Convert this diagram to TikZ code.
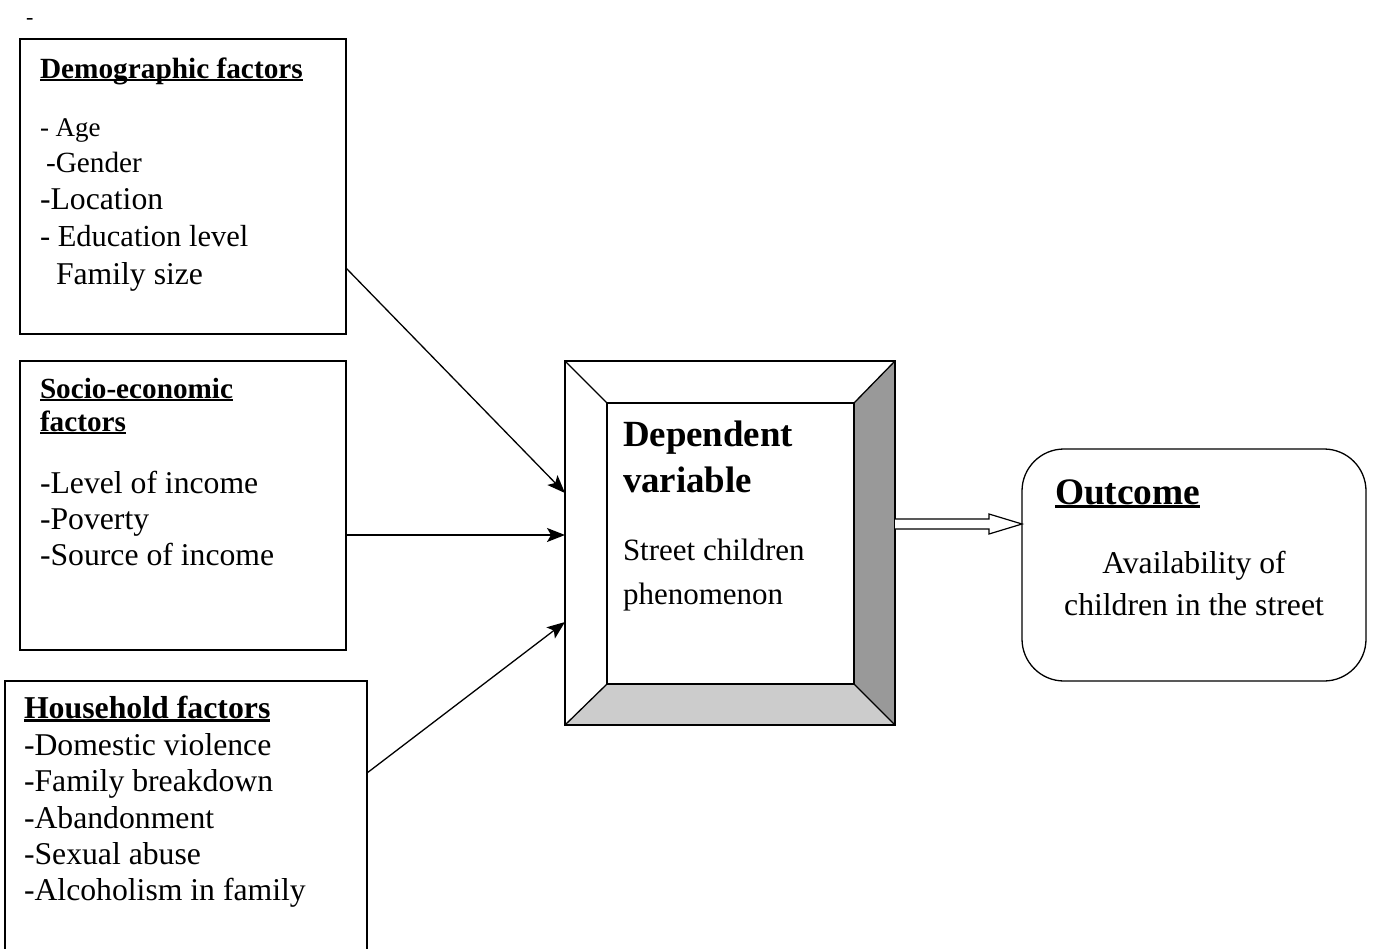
\documentclass[tikz,border=0pt]{standalone}
\usepackage{fontspec}
\setmainfont{Liberation Serif}
\usetikzlibrary{arrows.meta,calc}
\newcommand\ulx[1]{\setbox0\hbox{#1}\rlap{\rule[-0.11em]{\wd0}{0.075em}}\box0}
\definecolor{darkpanel}{HTML}{999999}
\definecolor{lightpanel}{HTML}{CCCCCC}
\tikzset{
  box/.style={draw, line width=1.3pt, inner sep=0pt, outer sep=0pt, anchor=north west},
  ghost/.style={inner sep=0pt, outer sep=0pt, anchor=north west},
  txt/.style={anchor=base west, inner sep=0pt, outer sep=0pt},
  body/.style={txt, font=\fontsize{31.7}{36}\selectfont},
  ttl/.style={txt, font=\fontsize{#1}{#1}\selectfont\bfseries},
  arr/.style={line width=1.3pt, -{Stealth[length=18pt,width=14pt,inset=4pt]}},
  hollow/.style={line width=1.2pt, fill=white, line join=miter},
  bevel/.style={line width=1.3pt},
}
\begin{document}
\begin{tikzpicture}[x=1pt,y=-1pt]
\useasboundingbox (0,0) rectangle (1373,948);

% boxes
\node[box, minimum width=326pt, minimum height=295pt] (demo) at (20,39) {};
\node[box, minimum width=326pt, minimum height=289pt] (socio) at (20,361) {};
\node[box, minimum width=362pt, minimum height=300pt] (house) at (5,681) {};
\node[box, rounded corners=42pt, minimum width=344pt, minimum height=232pt] (out) at (1022,449) {};

% bevelled box
\node[ghost, minimum width=330pt, minimum height=364pt] (dep) at (565,361) {};
\node[ghost, minimum width=247pt, minimum height=281pt] (depin) at (607,403) {};
\fill[darkpanel] (dep.north east) -- (dep.south east) -- (depin.south east) -- (depin.north east) -- cycle;
\fill[lightpanel] (dep.south west) -- (dep.south east) -- (depin.south east) -- (depin.south west) -- cycle;
\draw[bevel] (dep.north west) rectangle (dep.south east);
\draw[bevel] (depin.north west) rectangle (depin.south east);
\draw[bevel] (dep.north west) -- (depin.north west);
\draw[bevel] (dep.north east) -- (depin.north east);
\draw[bevel] (dep.south west) -- (depin.south west);
\draw[bevel] (dep.south east) -- (depin.south east);

% connectors
\draw[arr] (demo.east |- 0,268) -- (dep.west |- 0,493);
\draw[arr] (socio.east |- 0,535) -- (dep.west |- 0,535);
\draw[arr] (house.east |- 0,773) -- (dep.west |- 0,622);

\coordinate (hs) at (dep.east |- 0,524);
\coordinate (tip) at (out.west |- 0,524);
\draw[hollow] ([yshift=5pt]hs) -- ++(94,0) -- ++(0,-5) -- (tip) -- ++(-33,10) -- ++(0,-5) -- ++(-94,0);

% texts
\node[txt, font=\fontsize{22}{24}\selectfont] (dash) at (26,24) {-};

\node[ttl=29.3] (demoT) at (40,78) {\ulx{Demographic factors}};
\node[body, font=\fontsize{27}{30}\selectfont] (d1) at (40,136) {- Age};
\node[body, font=\fontsize{29.3}{32}\selectfont] (d2) at (46,172) {-Gender};
\node[body] (d3) at (40,209) {-Location};
\node[body, font=\fontsize{30.5}{34}\selectfont] (d4) at (40,246) {- Education level};
\node[body] (d5) at (56,284) {Family size};

\node[ttl=29.2] (socT1) at (40,398) {\ulx{Socio-economic}};
\node[ttl=29.2] (socT2) at (40,431) {\ulx{factors}};
\node[body] (s1) at (40,493) {-Level of income};
\node[body] (s2) at (40,529) {-Poverty};
\node[body] (s3) at (40,565) {-Source of income};

\node[ttl=31.8] (houT) at (24,718) {\ulx{Household factors}};
\node[body] (h1) at (24,755) {-Domestic violence};
\node[body] (h2) at (24,791) {-Family breakdown};
\node[body] (h3) at (24,828) {-Abandonment};
\node[body] (h4) at (24,864) {-Sexual abuse};
\node[body] (h5) at (24,900) {-Alcoholism in family};

\node[ttl=36.9] (depT1) at (623,446) {Dependent};
\node[ttl=36.9] (depT2) at (623,492) {variable};
\node[body, font=\fontsize{31}{34}\selectfont] (dep1) at (623,560) {Street children};
\node[body, font=\fontsize{31}{34}\selectfont] (dep2) at (623,604) {phenomenon};

\node[ttl=37.4] (outT) at (1055,504) {\ulx{Outcome}};
\node[body, anchor=base] (o1) at (1194,573) {Availability of};
\node[body, anchor=base] (o2) at (1194,615) {children in the street};
\end{tikzpicture}
\end{document}
